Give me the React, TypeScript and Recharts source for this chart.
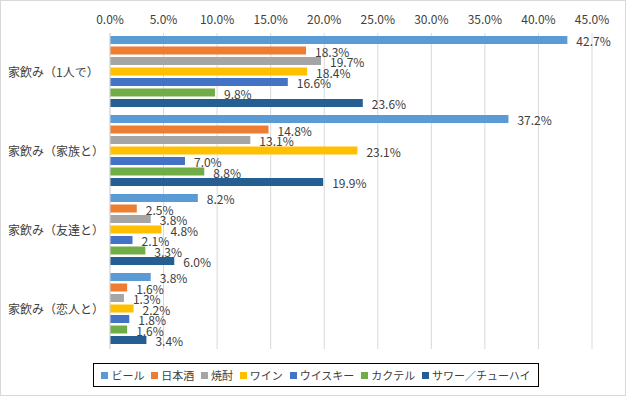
import React from 'react';
import { Bar, BarChart, CartesianGrid, LabelList, XAxis, YAxis } from 'recharts';

const categories = ['家飲み（1人で）', '家飲み（家族と）', '家飲み（友達と）', '家飲み（恋人と）'];
const seriesNames = ['ビール', '日本酒', '焼酎', 'ワイン', 'ウイスキー', 'カクテル', 'サワー／チューハイ'];
const seriesColors = ['#5B9BD5', '#ED7D31', '#A5A5A5', '#FFC000', '#4472C4', '#70AD47', '#255E91'];

const beer = [42.7, 37.2, 8.2, 3.8];
const sake = [18.3, 14.8, 2.5, 1.6];
const shochu = [19.7, 13.1, 3.8, 1.3];
const wine = [18.4, 23.1, 4.8, 2.2];
const whisky = [16.6, 7.0, 2.1, 1.8];
const cocktail = [9.8, 8.8, 3.3, 1.6];
const sour = [23.6, 19.9, 6.0, 3.4];

const seriesValues = [beer, sake, shochu, wine, whisky, cocktail, sour];
const xTicks = [0, 5, 10, 15, 20, 25, 30, 35, 40, 45];

const data = categories.map((name, i) => {
  const row: Record<string, string | number> = { name };
  seriesNames.forEach((s, j) => {
    row[s] = seriesValues[j][i];
  });
  return row;
});

const FONT = '"Noto Sans CJK JP", "Noto Sans", sans-serif';

const CategoryTick = (props: any) => {
  const { y, payload } = props;
  return (
    <text x={8} y={y} dy={4} textAnchor="start" fill="#404040" fontSize={12} fontFamily={FONT}>
      {payload.value}
    </text>
  );
};

export default function App() {
  return (
    <div
      style={{
        position: 'absolute',
        left: 0,
        top: 0,
        width: 624,
        height: 394,
        border: '1px solid #d9d9d9',
        background: '#fff',
        fontFamily: FONT,
      }}
    >
      <div style={{ position: 'absolute', left: -1, top: -1 }}>
        <BarChart
          width={626}
          height={396}
          data={data}
          layout="vertical"
          margin={{ top: 0, right: 34, bottom: 47, left: 0 }}
          barCategoryGap={3}
          barGap={2.5}
        >
          <CartesianGrid horizontal={false} stroke="#d9d9d9" />
          <XAxis
            type="number"
            orientation="top"
            domain={[0, 45]}
            ticks={xTicks}
            height={33}
            axisLine={false}
            tickLine={false}
            tickSize={0}
            tickMargin={9}
            tickFormatter={(v: number) => `${v.toFixed(1)}%`}
            tick={{ fill: '#404040', fontSize: 12, fontFamily: FONT }}
            interval={0}
          />
          <YAxis
            type="category"
            dataKey="name"
            width={110}
            axisLine={{ stroke: '#d9d9d9' }}
            tickLine={false}
            tick={<CategoryTick />}
          />
          {seriesNames.map((s, j) => (
            <Bar key={s} dataKey={s} fill={seriesColors[j]} isAnimationActive={false}>
              <LabelList
                dataKey={s}
                position="right"
                offset={9}
                formatter={(v: any) => `${Number(v).toFixed(1)}%`}
                fill="#404040"
                fontSize={12}
                fontFamily={FONT}
                dy={2}
              />
            </Bar>
          ))}
        </BarChart>
      </div>
      <div
        style={{
          position: 'absolute',
          left: 92,
          top: 362,
          width: 446,
          height: 24,
          border: '1px solid #000',
          boxSizing: 'border-box',
          display: 'flex',
          alignItems: 'center',
          justifyContent: 'space-around',
          padding: '0 4px',
          fontSize: 11,
          color: '#404040',
        }}
      >
        {seriesNames.map((s, j) => (
          <span key={s} style={{ display: 'flex', alignItems: 'center', whiteSpace: 'nowrap' }}>
            <span style={{ width: 7, height: 7, background: seriesColors[j], marginRight: 3, display: 'inline-block' }} />
            {s}
          </span>
        ))}
      </div>
    </div>
  );
}
